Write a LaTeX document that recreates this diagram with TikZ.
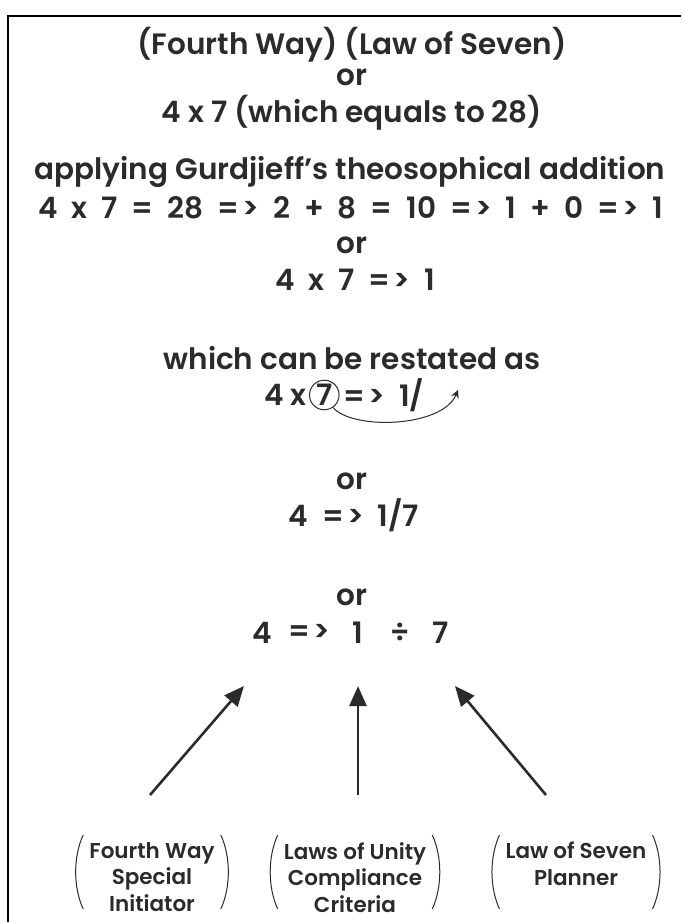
\documentclass[tikz,border=0pt]{standalone}
\usepackage{fontspec}
\setmainfont{Poppins}[UprightFont={* SemiBold}]
\usetikzlibrary{positioning,arrows.meta}
\definecolor{ink}{HTML}{2B2B2B}
\newcommand{\imp}{=\kern3pt>}
\newcommand{\widesp}{\spaceskip 14pt\relax}
\tikzset{
  ln/.style    ={font=\fontsize{29.5}{32}\selectfont, text=ink, inner sep=1pt},
  eq/.style    ={ln, font=\fontsize{29.5}{32}\selectfont\widesp},
  grp/.style   ={font=\fontsize{21.5}{26.5}\selectfont, text=ink, align=center,
                 inner sep=1pt, anchor=north},
  ring/.style  ={circle, draw=ink, line width=1pt, inner sep=1pt,
                 font=\fontsize{29.5}{32}\selectfont, text=ink},
  ar/.style    ={-{Triangle[length=20pt,width=17pt]}, draw=ink,
                 line width=2.6pt},
  arc/.style   ={-{Stealth[length=8pt,width=8pt]}, draw=ink, line width=1pt},
  paren/.style ={draw=ink, line width=1pt},
  frame/.style ={draw=black, line width=2.6pt}
}
% tall round brackets round a group node
\newcommand{\parens}[1]{%
  \draw[paren] ([shift={(-5,-6)}]#1.north west)
    .. controls +(-10,22) and +(-10,-22) .. ++(0,74);
  \draw[paren] ([shift={(5,-6)}]#1.north east)
    .. controls +(10,22) and +(10,-22) .. ++(0,74);}

\begin{document}
\begin{tikzpicture}[x=1pt,y=-1pt]
\useasboundingbox (0,0) rectangle (681,922);
\draw[frame] (681,16) -- (8,16) -- (8,922);

\node[ln] (l1) at (352,45) {(Fourth Way) (Law of Seven)};
\node[ln] (l2) at (352,77) {or};
\node[ln] (l3) at (352,113) {4 x 7 (which equals to 28)};
\node[ln] (l4) at (350,172) {applying Gurdjieff’s theosophical addition};
\node[eq] (l5) at (351,208) {4 x 7 = 28 \imp{} 2 + 8 = 10 \imp{} 1 + 0 \imp{} 1};
\node[ln] (l6) at (352,245) {or};
\node[eq] (l7) at (355,280) {4 x 7 \imp{} 1};

\node[ln] (l8) at (352,358) {which can be restated as};
\node[ln, anchor=east] (r9a) at (308,395) {4 x};
\node[ring, right=1pt of r9a] (c7) {7};
\node[eq, right=3pt of c7] (r9b) {\imp{} 1/};
\coordinate (k9) at (458,390);
\draw[arc] (c7.-55) .. controls (352,430) and (442,428) .. (k9);

\node[ln] (l10) at (352,481) {or};
\node[eq] (l11) at (354,515) {4 \imp{} 1/7};

\node[ln] (l12) at (352,597) {or};
\node[ln] (d4) at (262,633) {4};
\node[ln] (dg) at (309,633) {\imp};
\node[ln] (d1) at (358,633) {1};
\node[ln] (dd) at (400,633) {÷};
\node[ln] (d7) at (441,633) {7};

\node[grp] (g1) at (152,841) {Fourth Way\\Special\\Initiator};
\node[grp] (g2) at (355,841) {Laws of Unity\\Compliance\\Criteria};
\node[grp] (g3) at (576,841) {Law of Seven\\Planner};
\parens{g1}
\parens{g2}
\parens{g3}

\coordinate (t1) at (150,795);
\coordinate (t2) at (358,795);
\coordinate (t3) at (546,795);
\coordinate (h1) at (244,686);
\coordinate (h2) at (358,686);
\coordinate (h3) at (455,686);
\draw[ar] (t1) -- (h1);
\draw[ar] (t2) -- (h2);
\draw[ar] (t3) -- (h3);
\end{tikzpicture}
\end{document}
